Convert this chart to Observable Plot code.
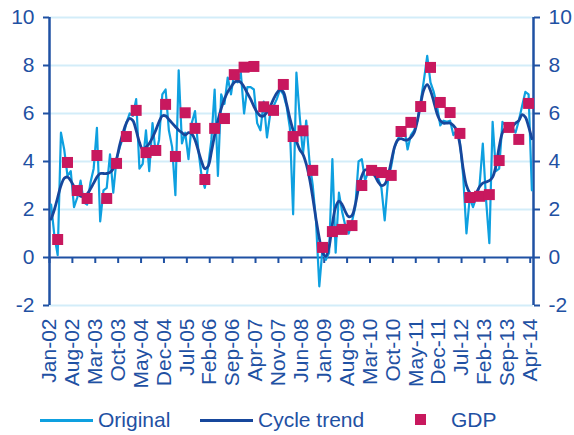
<!DOCTYPE html>
<html>
<head>
<meta charset="utf-8">
<script src="https://cdn.jsdelivr.net/npm/d3@7"></script>
<script src="https://cdn.jsdelivr.net/npm/@observablehq/plot@0.6"></script>
<style>
  html, body { margin: 0; padding: 0; background: #fff; }
  #wrap { position: relative; width: 574px; height: 435px; font-family: "Liberation Sans", Arial, sans-serif; }
  #legend { position: absolute; left: 0; top: 400px; width: 574px; height: 35px; color: #1f51a3; font-size: 21px; }
  .lg { position: absolute; top: 8px; line-height: 24px; white-space: nowrap; }
  .ln { position: absolute; top: 19px; height: 3px; }
  .sq { position: absolute; top: 14px; width: 11px; height: 11px; }
</style>
</head>
<body>
<div id="wrap">
  <div id="chart"></div>
  <div id="legend"></div>
</div>
<script>
// Monthly series, Jan-02 .. Apr-14 (148 months)
const original = [
  2.2,0.9,0.1,5.2,4.5,3.4,3.6,2.1,2.5,3.2,
  2.3,2.2,3.1,3.7,5.4,1.5,2.8,2.9,4.3,2.7,
  4.1,4.6,5.0,5.6,6.0,5.9,6.6,3.7,3.9,5.3,
  3.6,5.6,4.3,4.9,6.8,7.0,5.3,4.6,2.6,7.8,
  4.75,5.2,4.1,5.6,6.1,4.5,3.4,2.9,3.8,4.9,
  7.0,3.4,6.8,6.4,7.5,6.8,7.7,7.3,7.7,6.0,
  7.1,7.1,7.0,5.6,5.3,6.5,5.0,6.0,6.3,6.6,
  7.0,6.8,6.3,5.4,1.8,7.7,5.9,4.3,5.7,4.0,
  3.0,1.5,-1.2,0.4,-0.1,0.2,4.1,0.2,2.7,1.9,
  1.3,1.0,1.5,2.1,4.0,4.1,3.2,3.6,3.5,3.6,
  3.3,2.9,1.55,3.2,3.8,4.6,4.9,5.3,5.4,4.5,
  5.1,5.3,5.7,6.5,7.4,8.4,7.3,6.9,6.3,5.5,
  5.7,5.65,5.7,5.1,5.3,4.8,3.4,1.0,2.5,2.1,
  2.5,3.0,4.75,2.4,0.6,5.65,3.6,3.7,5.65,5.5,
  5.3,5.4,5.2,5.7,6.3,6.9,6.8,2.8
];
const cycleTrend = [
  1.6,2.0,2.5,3.0,3.3,3.35,3.2,2.95,2.7,2.55,
  2.55,2.65,2.85,3.1,3.35,3.5,3.5,3.5,3.55,3.7,
  4.1,4.7,5.2,5.6,5.8,5.7,5.3,4.8,4.5,4.6,
  4.75,5.0,5.3,5.65,5.9,5.9,5.75,5.6,5.45,5.3,
  5.2,5.1,5.2,5.15,4.9,4.45,4.0,3.7,3.8,4.4,
  5.1,5.7,6.2,6.6,6.9,7.1,7.3,7.35,7.3,7.1,
  6.85,6.6,6.3,6.05,5.9,5.9,6.05,6.3,6.6,6.85,
  7.0,6.9,6.4,5.8,5.3,4.85,4.5,4.3,3.9,3.3,
  2.5,1.6,0.8,0.2,0.05,0.45,1.4,2.1,2.35,2.2,
  1.9,1.7,1.75,2.2,2.9,3.4,3.65,3.65,3.55,3.4,
  3.15,3.0,3.05,3.4,4.0,4.6,4.9,4.95,4.9,4.9,
  5.0,5.2,5.7,6.4,7.0,7.2,6.95,6.5,6.0,5.7,
  5.6,5.6,5.6,5.5,5.3,4.7,3.7,3.0,2.7,2.6,
  2.7,2.95,3.1,3.15,3.2,3.35,3.8,4.6,5.2,5.4,
  5.4,5.45,5.6,5.7,5.95,5.85,5.45,4.95
];
// Quarterly GDP, Q1-02 .. Q1-14
const gdp = [
  0.75,3.96,2.79,2.46,4.25,2.46,3.92,5.04,6.13,4.37,
  4.46,6.38,4.21,6.03,5.38,3.25,5.38,5.79,7.62,7.93,
  7.96,6.28,6.13,7.21,5.04,5.28,3.63,0.42,1.08,1.17,
  1.33,3.0,3.63,3.54,3.42,5.25,5.63,6.29,7.92,6.46,
  6.04,5.17,2.5,2.55,2.62,4.04,5.42,4.92,6.42
];
const tickLabels = ["Jan-02","Aug-02","Mar-03","Oct-03","May-04","Dec-04","Jul-05","Feb-06","Sep-06","Apr-07","Nov-07","Jun-08","Jan-09","Aug-09","Mar-10","Oct-10","May-11","Dec-11","Jul-12","Feb-13","Sep-13","Apr-14"];
const yTicks = [-2,0,2,4,6,8,10];
const seriesNames = ["Original","Cycle trend","GDP"];

const C = { orig: "#0ea0e0", trend: "#17479c", gdp: "#c8185e", axis: "#1f51a3", grid: "#d3edf9" };

const nMonths = original.length;
const tickStep = 7;
const tickPos = tickLabels.map((_, k) => k * tickStep);
// months are categories: each point sits in the middle of its month slot
const origData = original.map((v, i) => ({x: i + 0.5, v}));
const trendData = cycleTrend.map((v, i) => ({x: i + 0.5, v}));
const gdpData = gdp.map((v, q) => ({x: q * 3 + 2 + 0.5, v}));

const chart = Plot.plot({
  width: 574,
  height: 400,
  marginLeft: 49,
  marginRight: 41,
  marginTop: 17,
  marginBottom: 95,
  style: { fontFamily: "'Liberation Sans', Arial, sans-serif", background: "#fff" },
  x: { type: "linear", domain: [0, nMonths], label: null },
  y: { domain: [-2, 10], label: null },
  marks: [
    Plot.ruleY(yTicks.filter(d => d !== 0), { stroke: C.grid, strokeWidth: 2 }),
    Plot.ruleY([0], { stroke: C.axis, strokeWidth: 2.2 }),
    Plot.ruleX(tickPos, { x: d => d, y1: 0, y2: 0, insetBottom: -6, stroke: C.axis, strokeWidth: 2 }),
    Plot.ruleX([0, nMonths], { stroke: C.axis, strokeWidth: 2.5 }),
    Plot.axisY({ anchor: "left", label: null, ticks: yTicks, tickSize: 6, tickPadding: 9, fontSize: 21, color: C.axis, strokeWidth: 2, tickFormat: d => String(d) }),
    Plot.axisY({ anchor: "right", label: null, ticks: yTicks, tickSize: 6, tickPadding: 9, fontSize: 21, color: C.axis, strokeWidth: 2, tickFormat: d => String(d) }),
    Plot.axisX({ anchor: "bottom", label: null, ticks: tickPos, tickSize: 0, tickPadding: 13, tickRotate: -90, fontSize: 21, color: C.axis,
                 tickFormat: d => tickLabels[tickPos.indexOf(d)] }),
    Plot.line(origData, { x: "x", y: "v", stroke: C.orig, strokeWidth: 2.2 }),
    Plot.line(trendData, { x: "x", y: "v", stroke: C.trend, strokeWidth: 2.8, curve: "catmull-rom" }),
    Plot.dot(gdpData, { x: "x", y: "v", symbol: "square", r: 6.2, fill: C.gdp, stroke: "none" })
  ]
});
document.getElementById("chart").appendChild(chart);

// legend
const lg = document.getElementById("legend");
lg.innerHTML =
  `<div class="ln" style="left:40px;width:53px;background:${C.orig}"></div>` +
  `<div class="lg" style="left:98px">${seriesNames[0]}</div>` +
  `<div class="ln" style="left:200px;width:53px;background:${C.trend}"></div>` +
  `<div class="lg" style="left:258px">${seriesNames[1]}</div>` +
  `<div class="sq" style="left:415px;background:${C.gdp}"></div>` +
  `<div class="lg" style="left:451px">${seriesNames[2]}</div>`;
</script>
</body>
</html>
